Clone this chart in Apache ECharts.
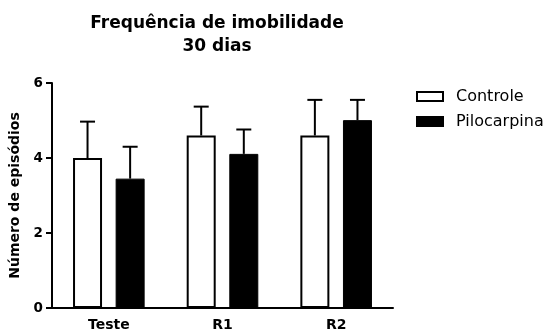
<!DOCTYPE html>
<html>
<head>
<meta charset="utf-8">
<script src="https://cdn.jsdelivr.net/npm/echarts@6/dist/echarts.min.js"></script>
<style>html,body{margin:0;padding:0;background:#fff;}#c{width:549px;height:334px;}</style>
</head>
<body>
<div id="c"></div>
<script>
const categories = ['Teste', 'R1', 'R2'];
const seriesNames = ['Controle', 'Pilocarpina'];
const controleMean = [4.0, 4.6, 4.6];
const controleTop = [4.97, 5.37, 5.55];
const pilocarpinaMean = [3.45, 4.11, 5.01];
const pilocarpinaTop = [4.3, 4.76, 5.55];
const yTicks = [0, 2, 4, 6];

const FONT = 'DejaVu Sans';
const BAR_W = 29;
const GAP_PX = 13.6;
const OFFSET = (BAR_W + GAP_PX) / 2;

const chart = echarts.init(document.getElementById('c'), null, {renderer: 'canvas'});

function errData(mean, top) {
  return categories.map((c, i) => [i, mean[i], top[i]]);
}
function errRender(offset) {
  return function (params, api) {
    const x = api.value(0);
    const p0 = api.coord([x, api.value(1)]);
    const p1 = api.coord([x, api.value(2)]);
    const cx = p0[0] + offset;
    const style = {stroke: '#000', lineWidth: 2, fill: null};
    return {
      type: 'group',
      children: [
        {type: 'line', shape: {x1: cx, y1: p0[1], x2: cx, y2: p1[1]}, style: style},
        {type: 'line', shape: {x1: cx - 7.5, y1: p1[1], x2: cx + 7.5, y2: p1[1]}, style: style}
      ]
    };
  };
}

chart.setOption({
  animation: false,
  backgroundColor: '#fff',
  title: {
    text: 'Frequência de imobilidade\n30 dias',
    left: 212,
    top: 7,
    textAlign: 'center',
    textStyle: {fontFamily: FONT, fontWeight: 'bold', fontSize: 17, color: '#000', lineHeight: 23}
  },
  legend: {
    orient: 'vertical',
    left: 416,
    top: 87,
    padding: 0,
    itemWidth: 26,
    itemHeight: 9,
    itemGap: 6,
    icon: 'rect',
    textStyle: {fontFamily: FONT, fontSize: 16, color: '#000', lineHeight: 19, padding: [0, 0, 0, 8]},
    data: seriesNames
  },
  grid: {left: 52, right: 156, top: 83, bottom: 26, containLabel: false},
  xAxis: {
    type: 'category',
    data: categories,
    axisLine: {lineStyle: {color: '#000', width: 2}},
    axisTick: {alignWithLabel: true, length: 5, lineStyle: {color: '#000', width: 2}},
    axisLabel: {fontFamily: FONT, fontWeight: 'bold', fontSize: 14, color: '#000', margin: 10}
  },
  yAxis: {
    type: 'value',
    min: yTicks[0],
    max: yTicks[yTicks.length - 1],
    interval: 2,
    name: 'Número de episódios',
    nameLocation: 'middle',
    nameGap: 26,
    nameTextStyle: {fontFamily: FONT, fontWeight: 'bold', fontSize: 14, color: '#000'},
    axisLine: {show: true, lineStyle: {color: '#000', width: 2}},
    axisTick: {show: true, length: 6, lineStyle: {color: '#000', width: 2}},
    axisLabel: {fontFamily: FONT, fontWeight: 'bold', fontSize: 13.5, color: '#000', margin: 9},
    splitLine: {show: false}
  },
  series: [
    {
      name: seriesNames[0], type: 'bar', data: controleMean,
      barWidth: BAR_W, barGap: (GAP_PX / BAR_W * 100) + '%',
      itemStyle: {color: '#fff', borderColor: '#000', borderWidth: 2}
    },
    {
      name: seriesNames[1], type: 'bar', data: pilocarpinaMean,
      barWidth: BAR_W,
      itemStyle: {color: '#000', borderColor: '#000', borderWidth: 1}
    },
    {type: 'custom', name: 'errC', data: errData(controleMean, controleTop), renderItem: errRender(-OFFSET), z: 3},
    {type: 'custom', name: 'errP', data: errData(pilocarpinaMean, pilocarpinaTop), renderItem: errRender(OFFSET), z: 3}
  ]
});
</script>
</body>
</html>
